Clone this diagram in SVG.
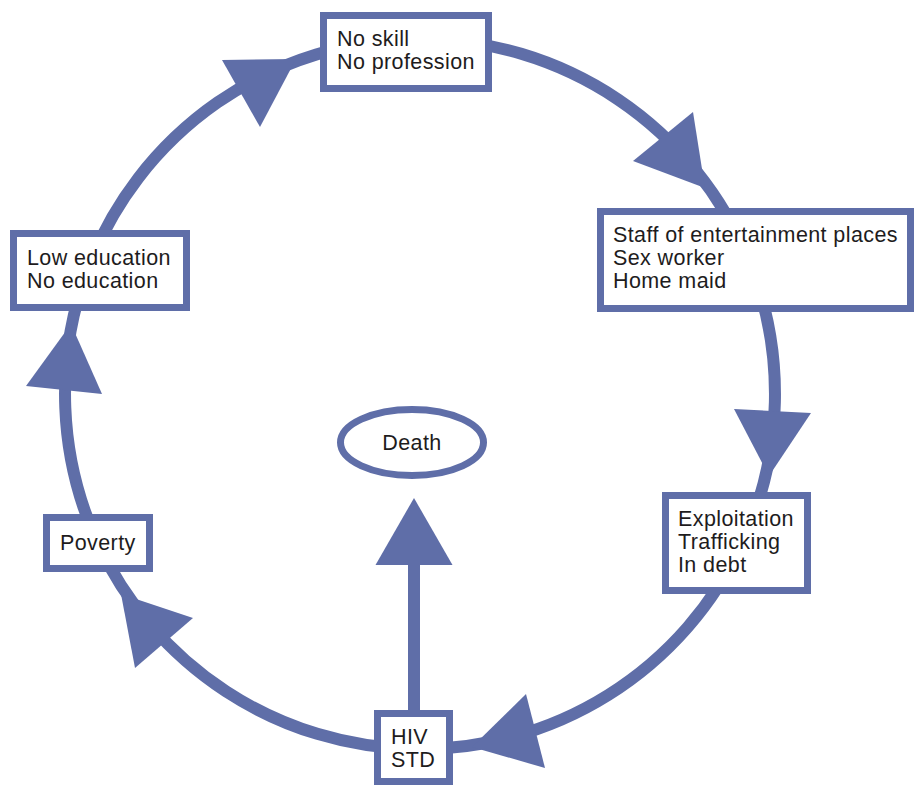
<svg xmlns="http://www.w3.org/2000/svg" width="915" height="787" viewBox="0 0 915 787">
  <style>
    .arc { fill: none; stroke: #5f6ea8; stroke-width: 12; }
    .head { fill: #5f6ea8; stroke: none; }
    .box { fill: #ffffff; stroke: #5f6ea8; stroke-width: 7; }
    .lbl { font-family: "Liberation Sans", Arial, Helvetica, sans-serif; font-size: 21.5px; fill: #1e1c1d; letter-spacing: 0.4px; }
  </style>
  <rect x="0" y="0" width="915" height="787" fill="#ffffff"/>
  <g id="connectors">
    <path class="arc" d="M 87.4 270 A 355 355 0 0 1 420 39"/>
    <path class="arc" d="M 420 39 A 355 355 0 0 1 748.7 260"/>
    <path class="arc" d="M 748.7 260 A 355 355 0 0 1 742.2 543"/>
    <path class="arc" d="M 742.2 543 A 355 355 0 0 1 413 749"/>
    <path class="arc" d="M 413 749 A 355 355 0 0 1 97.8 543"/>
    <path class="arc" d="M 97.8 543 A 355 355 0 0 1 87.4 270"/>
    <line class="arc" x1="414" y1="712" x2="414" y2="560"/>
    <polygon class="head" points="222,60 260,127 296,59"/>
    <polygon class="head" points="693,112 633,161 705,188"/>
    <polygon class="head" points="734,409 811,413 769,476"/>
    <polygon class="head" points="526,694 545,768 472,747"/>
    <polygon class="head" points="193,618 135,668 121,594"/>
    <polygon class="head" points="26,386 102,394 71,324"/>
    <polygon class="head" points="414,498 375.5,565 452.5,565"/>
  </g>
  <g id="node-noskill">
    <rect class="box" x="323.5" y="15.5" width="165" height="73"/>
    <text class="lbl" x="337" y="45.5">No skill</text>
    <text class="lbl" x="337" y="68.5">No profession</text>
  </g>
  <g id="node-staff">
    <rect class="box" x="600.5" y="211.5" width="310" height="97"/>
    <text class="lbl" x="613" y="241.5">Staff of entertainment places</text>
    <text class="lbl" x="613" y="264.5">Sex worker</text>
    <text class="lbl" x="613" y="287.5">Home maid</text>
  </g>
  <g id="node-education">
    <rect class="box" x="13.5" y="233.5" width="173" height="74"/>
    <text class="lbl" x="27" y="264.5">Low education</text>
    <text class="lbl" x="27" y="287.5">No education</text>
  </g>
  <g id="node-exploitation">
    <rect class="box" x="665.5" y="495.5" width="142" height="95"/>
    <text class="lbl" x="678" y="525.5">Exploitation</text>
    <text class="lbl" x="678" y="548.5">Trafficking</text>
    <text class="lbl" x="678" y="571.5">In debt</text>
  </g>
  <g id="node-poverty">
    <rect class="box" x="46.5" y="517.5" width="103" height="51"/>
    <text class="lbl" x="60" y="549.5">Poverty</text>
  </g>
  <g id="node-hiv">
    <rect class="box" x="377.5" y="713.5" width="72" height="68"/>
    <text class="lbl" x="391" y="743.5">HIV</text>
    <text class="lbl" x="391" y="766.5">STD</text>
  </g>
  <g id="node-death">
    <ellipse class="box" cx="412" cy="442.5" rx="71.5" ry="33"/>
    <text class="lbl" x="412" y="450" text-anchor="middle">Death</text>
  </g>
</svg>
